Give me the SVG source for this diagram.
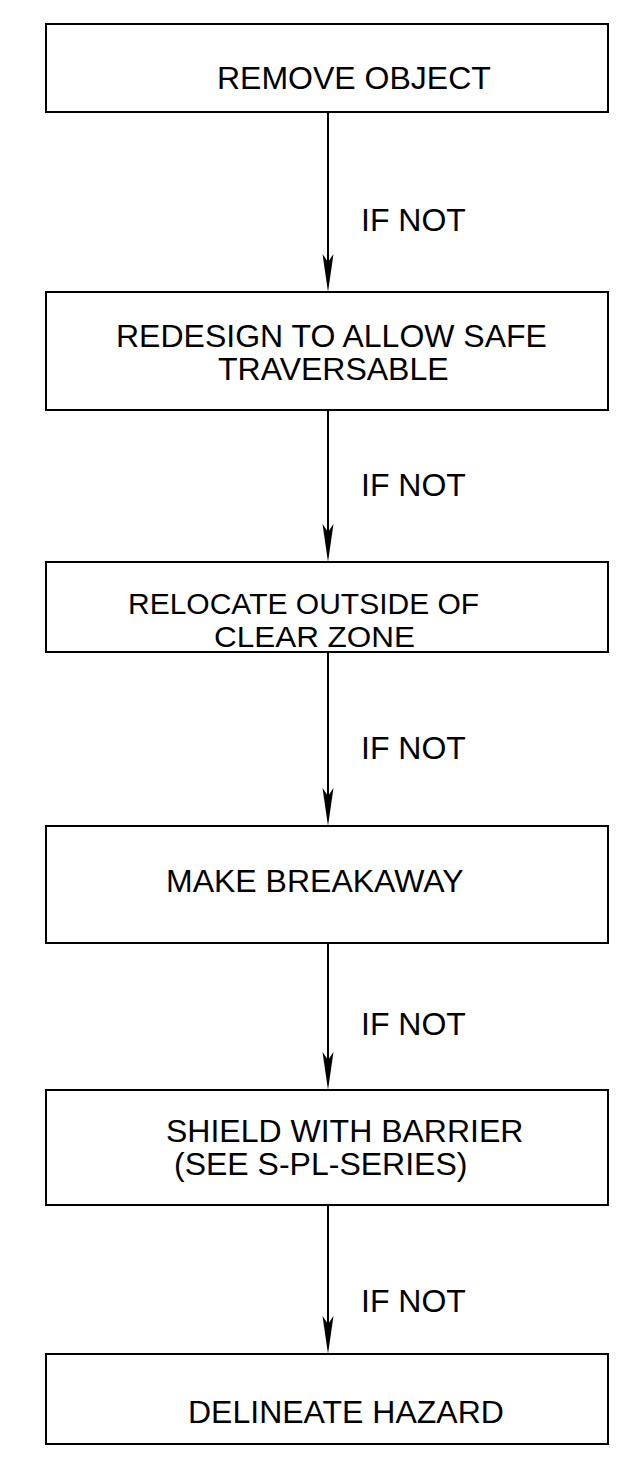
<svg xmlns="http://www.w3.org/2000/svg" width="635" height="1473" viewBox="0 0 635 1473">
<style>
.box{fill:#fff;stroke:#000;stroke-width:2}
.t{font-family:"Liberation Sans",Arial,sans-serif;font-size:32px;fill:#000}
.s{font-size:30px}
.c{stroke:#000;stroke-width:2;fill:none}
.h{fill:#000;stroke:none}
</style>
<rect width="635" height="1473" fill="#fff"/>
<g id="connectors">
<line class="c" x1="328" y1="112" x2="328" y2="280"/>
<path class="h" d="M328,292 L322.5,254 L328,262 L333.5,254 Z"/>
<line class="c" x1="328" y1="410" x2="328" y2="550"/>
<path class="h" d="M328,562 L322.5,524 L328,532 L333.5,524 Z"/>
<line class="c" x1="328" y1="652" x2="328" y2="814"/>
<path class="h" d="M328,826 L322.5,788 L328,796 L333.5,788 Z"/>
<line class="c" x1="328" y1="943" x2="328" y2="1078"/>
<path class="h" d="M328,1090 L322.5,1052 L328,1060 L333.5,1052 Z"/>
<line class="c" x1="328" y1="1205" x2="328" y2="1342"/>
<path class="h" d="M328,1354 L322.5,1316 L328,1324 L333.5,1316 Z"/>
<text class="t" x="361" y="231">IF NOT</text>
<text class="t" x="361" y="496">IF NOT</text>
<text class="t" x="361" y="759">IF NOT</text>
<text class="t" x="361" y="1035">IF NOT</text>
<text class="t" x="361" y="1312">IF NOT</text>
</g>
<g id="n1">
<rect class="box" x="46" y="24" width="562" height="88"/>
<text class="t" x="217" y="89">REMOVE OBJECT</text>
</g>
<g id="n2">
<rect class="box" x="46" y="292" width="562" height="118"/>
<text class="t" x="116" y="347">REDESIGN TO ALLOW SAFE</text>
<text class="t" x="218" y="380">TRAVERSABLE</text>
</g>
<g id="n3">
<rect class="box" x="46" y="562" width="562" height="90"/>
<text class="t s" x="128" y="614">RELOCATE OUTSIDE OF</text>
<text class="t s" x="214" y="647" textLength="201" lengthAdjust="spacingAndGlyphs">CLEAR ZONE</text>
</g>
<g id="n4">
<rect class="box" x="46" y="826" width="562" height="117"/>
<text class="t" x="166" y="892">MAKE BREAKAWAY</text>
</g>
<g id="n5">
<rect class="box" x="46" y="1090" width="562" height="115"/>
<text class="t" x="166" y="1142">SHIELD WITH BARRIER</text>
<text class="t" x="174" y="1175">(SEE S-PL-SERIES)</text>
</g>
<g id="n6">
<rect class="box" x="46" y="1354" width="562" height="90"/>
<text class="t" x="188" y="1423">DELINEATE HAZARD</text>
</g>
</svg>
